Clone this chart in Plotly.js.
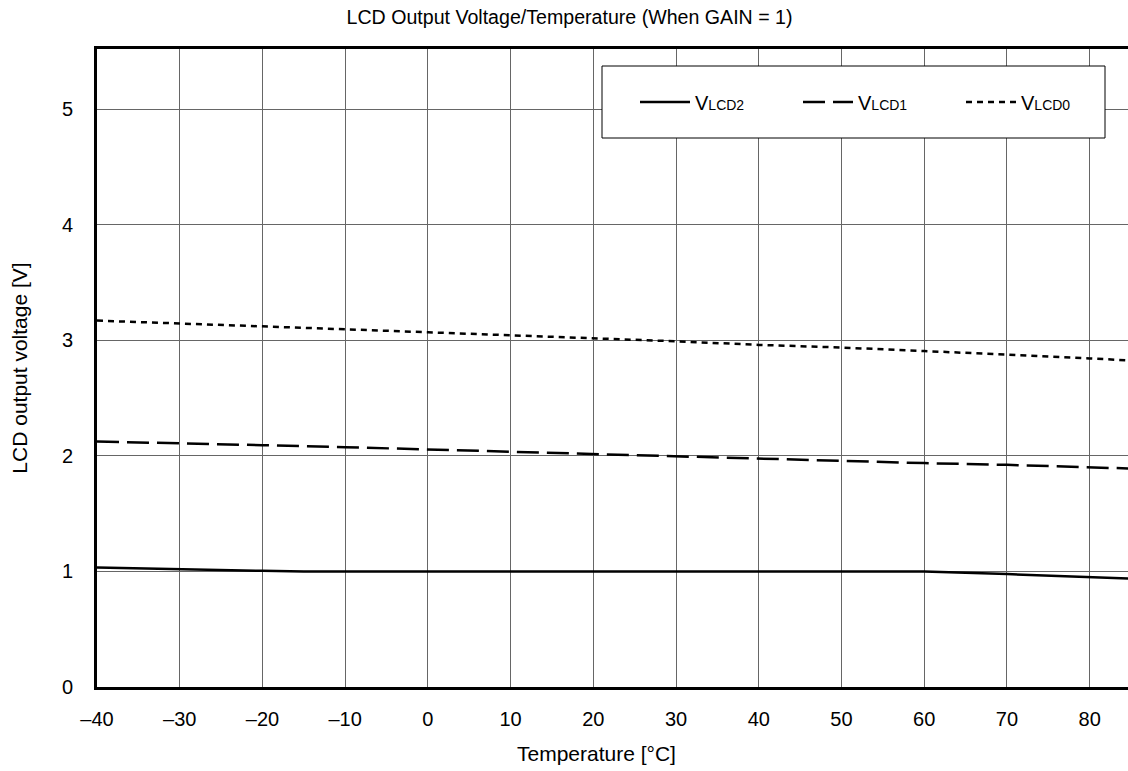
<!DOCTYPE html>
<html>
<head>
<meta charset="utf-8">
<script src="https://cdn.plot.ly/plotly-3.0.1.min.js"></script>
<style>html,body{margin:0;padding:0;overflow:hidden;background:#fff;}</style>
</head>
<body>
<div id="chart"></div>
<script>
// Data
const temps = [-40, -30, -20, -10, 0, 10, 20, 30, 40, 50, 60, 70, 80, 85];
const vlcd0 = [3.170, 3.147, 3.121, 3.095, 3.069, 3.044, 3.015, 2.991, 2.960, 2.937, 2.907, 2.878, 2.843, 2.825];
const vlcd1 = [2.124, 2.110, 2.092, 2.075, 2.055, 2.038, 2.015, 1.997, 1.977, 1.960, 1.937, 1.922, 1.900, 1.890];
const temps2 = [-40, -30, -20, -15, -10, 0, 10, 20, 30, 40, 50, 60, 70, 80, 85];
const vlcd2 = [1.035, 1.017, 1.005, 1.000, 1.000, 1.000, 1.000, 1.000, 1.000, 1.000, 1.000, 1.000, 0.977, 0.952, 0.938];

const xTickVals = [-40, -30, -20, -10, 0, 10, 20, 30, 40, 50, 60, 70, 80];
const xTickText = ['\u201340', '\u201330', '\u201320', '\u201310', '0', '10', '20', '30', '40', '50', '60', '70', '80'];
const yTickVals = [0, 1, 2, 3, 4, 5];
const yTickText = ['0', '1', '2', '3', '4', '5'];

const names = [
  'V<span style="font-size:14px">LCD2</span>',
  'V<span style="font-size:14px">LCD1</span>',
  'V<span style="font-size:14px">LCD0</span>'
];

const FONT = 'Liberation Sans, Arial, sans-serif';

const traces = [
  {x: temps2, y: vlcd2, name: names[0], mode: 'lines', line: {color: '#000', width: 2.5, dash: 'solid'}},
  {x: temps, y: vlcd1, name: names[1], mode: 'lines', line: {color: '#000', width: 2.5, dash: '22px,8px'}},
  {x: temps, y: vlcd0, name: names[2], mode: 'lines', line: {color: '#000', width: 2.5, dash: '6px,5px'}}
];

const W = 1200, H = 771;
const PL = 97, PR = 1131, PT = 49, PB = 687;
const PW = PR - PL, PH = PB - PT;
const layout = {
  width: W, height: H,
  margin: {l: PL, r: W - PR, t: PT, b: H - PB},
  paper_bgcolor: '#fff', plot_bgcolor: '#fff',
  font: {family: FONT, size: 20, color: '#000'},
  title: {
    text: 'LCD Output Voltage/Temperature (When GAIN = 1)',
    font: {family: FONT, size: 19.6, color: '#000'},
    xref: 'container', x: 569.5 / W, xanchor: 'center',
    yref: 'container', y: 1 - 17 / H, yanchor: 'middle'
  },
  xaxis: {
    range: [-40, 85],
    tickvals: xTickVals, ticktext: xTickText,
    showgrid: true, gridcolor: '#666', gridwidth: 1,
    zeroline: false,
    showline: true, linecolor: '#000', linewidth: 3, mirror: true,
    ticks: '', ticklabelstandoff: 12,
    tickfont: {family: FONT, size: 20, color: '#000'},
    fixedrange: true
  },
  yaxis: {
    range: [0, 5.52],
    tickvals: yTickVals, ticktext: yTickText,
    showgrid: true, gridcolor: '#666', gridwidth: 1,
    zeroline: false,
    showline: true, linecolor: '#000', linewidth: 3, mirror: true,
    ticks: '', ticklabelstandoff: 17,
    tickfont: {family: FONT, size: 20, color: '#000'},
    title: {text: 'LCD output voltage [V]', font: {family: FONT, size: 21, color: '#000'}, standoff: 29},
    fixedrange: true
  },
  annotations: [{
    text: 'Temperature [\u00B0C]',
    xref: 'paper', yref: 'paper',
    x: (596 - PL) / PW, y: -(753 - PB) / PH,
    xanchor: 'center', yanchor: 'middle', showarrow: false,
    font: {family: FONT, size: 21, color: '#000'}
  }],
  shapes: [{
    type: 'rect', xref: 'paper', yref: 'paper', layer: 'above',
    x0: (602 - PL) / PW, x1: (1105 - PL) / PW,
    y0: (PB - 138) / PH, y1: (PB - 66) / PH,
    fillcolor: '#fff', line: {color: '#000', width: 1}
  }],
  showlegend: true,
  legend: {
    orientation: 'h',
    x: (635 - PL) / PW, xanchor: 'left',
    y: (PB - 102) / PH, yanchor: 'middle',
    bgcolor: 'rgba(0,0,0,0)', borderwidth: 0,
    entrywidth: 98, entrywidthmode: 'pixels',
    itemwidth: 50,
    font: {family: FONT, size: 20, color: '#000'}
  }
};

Plotly.newPlot('chart', traces, layout, {displayModeBar: false, staticPlot: true});
</script>
</body>
</html>
